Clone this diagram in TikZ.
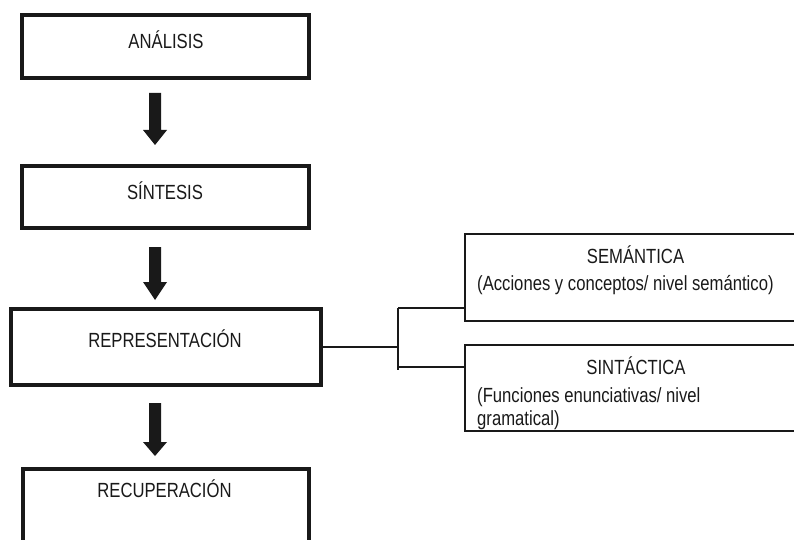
\documentclass[tikz,border=0pt]{standalone}
\usepackage{fontspec}
\setmainfont{Liberation Sans}[FakeStretch=0.813]
\begin{document}
\begin{tikzpicture}[x=1pt,y=-1pt,
  thickbox/.style={draw=black!90, line width=4pt, inner sep=0pt},
  thinbox/.style={draw=black!90, line width=2pt, inner sep=0pt},
  txt/.style={inner sep=0pt, anchor=base, font=\fontsize{20.5}{22.5}\selectfont, text=black!90},
  ltxt/.style={txt, anchor=base west},
  conn/.style={draw=black!90, line width=2pt},
  blockarrow/.style={fill=black!90}]
\useasboundingbox (0,0) rectangle (794,540);
\clip (0,0) rectangle (794,540);
% left column boxes
\node[thickbox, minimum width=287pt, minimum height=63pt] (ana) at (165.5,46.5) {};
\node[txt] (anat) at (166,48.3) {ANÁLISIS};
\node[thickbox, minimum width=287pt, minimum height=62pt] (sin) at (165.5,197) {};
\node[txt] (sint) at (165,199) {SÍNTESIS};
\node[thickbox, minimum width=310pt, minimum height=76pt] (rep) at (166,347) {};
\node[txt] (rept) at (165,347) {REPRESENTACIÓN};
\node[thickbox, minimum width=286pt, minimum height=91pt] (rec) at (166,514.5) {};
\node[txt] (rect) at (164.5,497) {RECUPERACIÓN};
% right boxes
\node[thinbox, minimum width=335pt, minimum height=87pt] (sem) at (632.5,277.5) {};
\node[txt] (semt) at (635.5,263.5) {SEMÁNTICA};
\node[ltxt] (semd) at (477,290) {(Acciones y conceptos/ nivel semántico)};
\node[thinbox, minimum width=335pt, minimum height=86pt] (snt) at (632.5,388) {};
\node[txt] (sntt) at (636,374) {SINTÁCTICA};
\node[ltxt] (sntd1) at (477,402.5) {(Funciones enunciativas/ nivel};
\node[ltxt] (sntd2) at (477,425) {gramatical)};
% block arrows
\foreach \n/\yt/\yb/\yp in {a1/93/130/145, a2/247/282/300, a3/403/442/456}{
  \coordinate (\n s) at (155,\yt);
  \coordinate (\n t) at (155,\yp);
  \fill[blockarrow] ([xshift=-6pt]\n s) -- ([xshift=6pt]\n s) -- (161,\yb) -- (167,\yb)
     -- (\n t) -- (143,\yb) -- (149,\yb) -- cycle;
}
% bracket connector
\coordinate (j) at (398,347);
\coordinate (jt) at (398,308);
\coordinate (jb) at (398,367);
\coordinate (jbe) at (398,370);
\draw[conn] (rep.east) -- (j);
\draw[conn] (jt) -- (jbe);
\draw[conn] (jt) -- (sem.west |- jt);
\draw[conn] (jb) -- (snt.west |- jb);
\end{tikzpicture}
\end{document}
